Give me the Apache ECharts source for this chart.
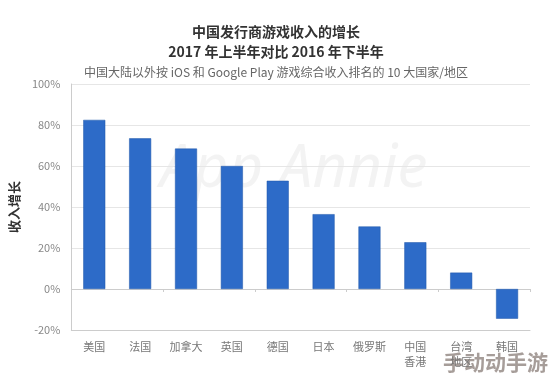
<!DOCTYPE html>
<html><head><meta charset="utf-8">
<script src="https://cdn.jsdelivr.net/npm/echarts@6/dist/echarts.min.js"></script>
<style>html,body{margin:0;padding:0;background:#fff}#c{width:552px;height:387px}</style>
</head><body><div id="c"></div>
<script>
var categories = ['美国','法国','加拿大','英国','德国','日本','俄罗斯','中国\n香港','台湾\n地区','韩国'];
var growth = [82.5, 73.5, 68.5, 60, 52.8, 36.5, 30.5, 22.8, 8, -14.5];
var yTicks = [-20, 0, 20, 40, 60, 80, 100];

var chart = echarts.init(document.getElementById('c'));
var font = '"Noto Sans CJK SC","Noto Sans",sans-serif';
chart.setOption({
  animation: false,
  title: [
    {text: '中国发行商游戏收入的增长', left: 'center', top: 20, textStyle: {fontFamily: font, fontSize: 14, fontWeight: 'bold', color: '#333'}},
    {text: '2017 年上半年对比 2016 年下半年', left: 'center', top: 40, textStyle: {fontFamily: font, fontSize: 14, fontWeight: 'bold', color: '#333'}},
    {text: '中国大陆以外按 iOS 和 Google Play 游戏综合收入排名的 10 大国家/地区', left: 'center', top: 61, textStyle: {fontFamily: font, fontSize: 12, fontWeight: 'normal', color: '#666'}}
  ],
  graphic: [
    {type: 'text', left: 160, top: 140, style: {text: 'App Annie', font: 'italic 60px "Noto Sans"', fill: 'rgba(200,200,200,0.22)'}},
    {type: 'text', left: 443, top: 352, style: {text: '手动动手游', font: 'bold 21px "Noto Sans CJK SC"', fill: 'rgba(150,140,135,0.85)'}}
  ],
  grid: {left: 69, right: 22, top: 84, bottom: 57},
  xAxis: [
    {
      type: 'category', data: categories,
      axisLine: {onZero: true, lineStyle: {color: '#ccc'}},
      axisTick: {show: true, length: 3, lineStyle: {color: '#ccc'}},
      axisLabel: {show: false}
    },
    {
      type: 'category', data: categories, position: 'bottom',
      axisLine: {show: true, onZero: false, lineStyle: {color: '#ccc'}}, axisTick: {show: false},
      axisLabel: {fontFamily: font, fontSize: 11, color: '#777', lineHeight: 15, margin: 9}
    }
  ],
  yAxis: {
    type: 'value', min: -20, max: 100, interval: 20,
    name: '收入增长', nameLocation: 'middle', nameGap: 46, nameRotate: 90,
    nameTextStyle: {fontFamily: font, fontSize: 13, fontWeight: 'bold', color: '#333'},
    axisLine: {show: true, lineStyle: {color: '#ccc'}},
    axisTick: {show: false},
    axisLabel: {fontFamily: font, fontSize: 11, color: '#888', margin: 11, formatter: function(v){return yTicks.indexOf(v) >= 0 ? v + '%' : '';}},
    splitLine: {lineStyle: {color: '#e6e6e6'}}
  },
  series: [
    {type: 'bar', data: growth, barWidth: 22, itemStyle: {color: '#2d6bc8', borderColor: '#1f56a8', borderWidth: 0.5}}
  ]
});
</script></body></html>
